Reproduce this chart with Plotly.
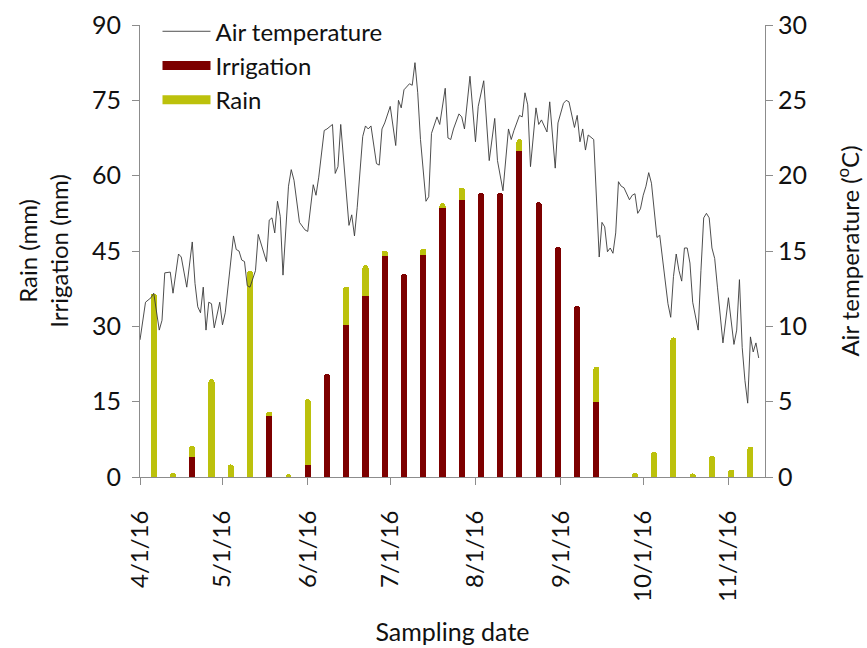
import pandas as pd
import plotly.graph_objects as go

# ---- data ----
bar_start = "2016-04-06"
irrigation_mm = [0, 0, 4.0, 0, 0, 0, 12.2, 0, 2.3, 20.5, 30.2, 36.0, 44.0, 40.4, 44.3, 53.5,
                 55.2, 56.6, 56.6, 65.0, 54.7, 45.9, 34.1, 15.0, 0, 0, 0, 0, 0, 0, 0, 0]
rain_mm = [36.5, 0.8, 2.2, 19.5, 2.5, 41.0, 0.8, 0.6, 13.2, 0, 7.7, 6.2, 1.1, 0, 1.2, 1.0,
           2.4, 0, 0, 2.3, 0, 0, 0, 7.0, 0, 0.8, 5.0, 27.8, 0.7, 4.2, 1.5, 6.0]

temp_start = "2016-04-01"
temp_day = [0, 2, 4, 5, 7, 8, 9, 11, 12, 14, 15, 17, 19, 20, 21, 22, 23, 24, 25, 26, 27, 29, 30, 31,
            34, 35, 36, 37, 38, 39, 40, 42, 43, 44, 46, 47, 48, 49, 50, 51, 52, 54, 55, 56, 58, 60,
            61, 63, 64, 65, 67, 68, 70, 71, 72, 73, 75, 76, 77, 78, 79, 81, 82, 83, 84, 86, 87, 88,
            89, 91, 93, 94, 95, 96, 98, 99, 100, 101, 102, 104, 105, 106, 108, 109, 111, 112, 113,
            114, 116, 117, 118, 120, 122, 123, 125, 127, 129, 130, 132, 134, 135, 136, 138, 139,
            140, 141, 142, 144, 145, 146, 148, 149, 151, 152, 154, 155, 156, 158, 159, 160, 161,
            162, 163, 165, 167, 168, 169, 170, 171, 172, 173, 174, 175, 176, 178, 179, 180, 181,
            182, 183, 184, 185, 186, 187, 188, 189, 190, 192, 193, 194, 195, 196, 197, 198, 199,
            200, 201, 203, 204, 205, 206, 207, 208, 209, 210, 212, 214, 215, 216, 217, 218, 219,
            220, 221, 222, 223, 224, 225]
temp_c = [9.1, 11.6, 11.9, 12.2, 9.75, 10.4, 13.55, 13.6, 12.2, 14.8, 14.6, 12.6, 15.6, 12.85, 11.3,
          10.9, 12.6, 9.75, 11.6, 11.5, 9.9, 11.6, 10.1, 10.9,
          16.0, 15.1, 15.0, 14.4, 14.3, 12.7, 12.6, 13.7, 16.1, 15.5, 14.3, 17.05, 17.2, 16.2, 18.3,
          17.3, 13.4, 19.3, 20.4, 19.7, 16.9, 16.4,
          16.3, 19.4, 18.7, 19.9, 23.0, 23.1, 23.4, 20.15, 20.6, 23.4, 19.0, 16.7, 17.4, 16.0, 17.9,
          22.6, 23.3, 23.1, 23.3, 20.8, 20.7, 23.1,
          23.5, 24.6, 22.0, 25.0, 24.5, 25.7, 26.1, 26.0, 27.5, 25.5, 22.4, 18.3, 18.6, 22.8, 23.9,
          23.4, 25.8, 22.5, 22.4,
          23.1, 24.1, 23.9, 23.1, 26.6, 22.25, 24.6, 26.3, 21.0, 23.8, 21.0, 19.0, 23.1, 22.4, 23.0,
          24.0, 23.9,
          25.5, 24.7, 20.6, 24.5, 23.4, 23.7, 22.9, 24.9, 20.5, 23.5, 24.8, 25.0, 24.9, 23.2, 24.0,
          22.25, 23.1,
          21.7, 22.7, 22.4, 14.6, 16.9, 16.6, 14.95, 15.2, 14.85, 16.2, 19.6, 19.3, 19.2, 18.4,
          18.7, 18.8, 17.5,
          17.8, 18.7, 19.3, 20.2, 19.5, 17.9, 15.9, 16.05, 14.4, 11.5, 10.6, 13.3, 14.8, 13.7,
          13.0, 15.2, 15.2,
          14.2, 11.6, 9.75, 13.7, 17.2, 17.5, 17.2, 15.2, 14.5, 12.6, 8.9, 11.9, 10.4, 8.8, 9.75,
          13.1, 8.6,
          6.4, 4.9, 9.3, 8.3, 8.9, 7.9]

month_ticks = ["2016-04-01", "2016-05-01", "2016-06-01", "2016-07-01", "2016-08-01",
               "2016-09-01", "2016-10-01", "2016-11-01"]

# ---- derived ----
bar_dates = pd.date_range(bar_start, periods=len(rain_mm), freq="7D")
temp_dates = pd.to_datetime(temp_start) + pd.to_timedelta(temp_day, unit="D")

IRR_COLOR = "#7d0000"
RAIN_COLOR = "#bcc10c"
FONT = "Lato"
bar_w = 2.2 * 86400000

fig = go.Figure()
fig.add_trace(go.Bar(x=bar_dates, y=irrigation_mm, marker=dict(color=IRR_COLOR, line=dict(width=0)),
                     width=bar_w, name="Irrigation", showlegend=False))
fig.add_trace(go.Bar(x=bar_dates, y=rain_mm, marker=dict(color=RAIN_COLOR, line=dict(width=0)),
                     width=bar_w, name="Rain", showlegend=False))
fig.add_trace(go.Scatter(x=temp_dates, y=temp_c, mode="lines", yaxis="y2",
                         line=dict(color="#3a3a3a", width=0.9), name="Air temperature",
                         showlegend=True))
# legend entries styled like the reference's thick rounded keys
fig.add_trace(go.Scatter(x=[None], y=[None], mode="lines", line=dict(color=IRR_COLOR, width=9),
                         name="Irrigation"))
fig.add_trace(go.Scatter(x=[None], y=[None], mode="lines", line=dict(color=RAIN_COLOR, width=9),
                         name="Rain"))

axis_col = "#8c8c8c"
fig.update_layout(
    width=867, height=648,
    margin=dict(l=140, r=102, t=25, b=171, autoexpand=False),
    paper_bgcolor="white", plot_bgcolor="white",
    barmode="stack", barcornerradius=3,
    font=dict(family=FONT, color="#111", size=24),
    showlegend=True,
    legend=dict(x=0.028, y=1.035, xanchor="left", yanchor="top", bgcolor="rgba(0,0,0,0)",
                font=dict(size=24, family=FONT), itemwidth=48, tracegroupgap=0,
                traceorder="normal"),
    xaxis=dict(type="date", range=["2016-04-01", "2016-11-14 07:00"], automargin=False,
               tickvals=month_ticks, tickformat="%-m/%-d/%y", tickangle=-90,
               showgrid=False, zeroline=False, showline=True, linecolor=axis_col, linewidth=1,
               ticks="outside", ticklen=7, tickcolor=axis_col, tickfont=dict(size=24),
               ticklabelstandoff=16,
               title=dict(text="Sampling date", font=dict(size=25), standoff=22)),
    yaxis=dict(range=[0, 90], dtick=15, showgrid=False, zeroline=False, showline=True,
               automargin=False,
               linecolor=axis_col, linewidth=1, ticks="outside", ticklen=7, tickcolor=axis_col,
               tickfont=dict(size=25), ticklabelstandoff=6,
               title=dict(text="Rain (mm)<br>Irrigation (mm)", font=dict(size=24), standoff=16)),
    yaxis2=dict(range=[0, 30], dtick=5, overlaying="y", side="right", showgrid=False,
                automargin=False,
                zeroline=False, showline=True, linecolor=axis_col, linewidth=1, ticks="outside",
                ticklen=7, tickcolor=axis_col, tickfont=dict(size=25),
                title=dict(text="Air temperature (<sup>o</sup>C)", font=dict(size=24), standoff=36)),
)

fig.write_html("out.html")
